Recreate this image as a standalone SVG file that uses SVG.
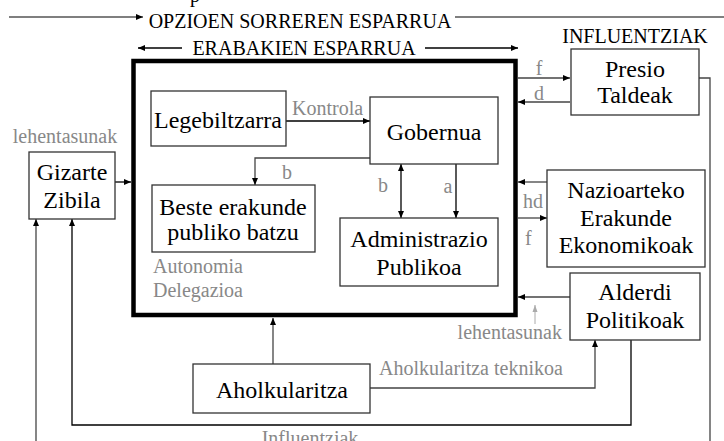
<svg xmlns="http://www.w3.org/2000/svg" width="724" height="441" viewBox="0 0 724 441">
<style>
.box{fill:#fff;stroke:#333;stroke-width:1.3}
.t{font-family:"Liberation Serif","Times New Roman",serif;font-size:24px;fill:#000;text-anchor:middle}
.g{font-family:"Liberation Serif","Times New Roman",serif;font-size:20px;fill:#888}
.h{font-family:"Liberation Serif","Times New Roman",serif;font-size:20px;fill:#000}
.c{fill:none;stroke:#444;stroke-width:1.3}
.k{fill:none;stroke:#000;stroke-width:1.3}
</style>
<defs>
<marker id="ah" markerUnits="userSpaceOnUse" markerWidth="8" markerHeight="8" viewBox="0 0 8 8" refX="7" refY="4" orient="auto-start-reverse"><path d="M0,1 L7,4 L0,7 z" fill="#000"/></marker>
<marker id="ag" markerUnits="userSpaceOnUse" markerWidth="8" markerHeight="8" viewBox="0 0 8 8" refX="7" refY="4" orient="auto"><path d="M0,1.5 L7,4 L0,6.5 z" fill="#aaa"/></marker>
</defs>
<rect width="724" height="441" fill="#fff"/>

<g id="headers">
<text class="h" x="190" y="2">p</text>
<line x1="9" y1="17" x2="143" y2="17" stroke="#555" stroke-width="1.3" marker-end="url(#ah)"/>
<text class="h" x="300" y="28" text-anchor="middle">OPZIOEN SORREREN ESPARRUA</text>
<line x1="455" y1="17" x2="724" y2="17" stroke="#555" stroke-width="1.3"/>
<line x1="182" y1="48" x2="138" y2="48" class="k" marker-end="url(#ah)"/>
<text class="h" x="304" y="55" text-anchor="middle">ERABAKIEN ESPARRUA</text>
<line x1="425" y1="48" x2="518" y2="48" class="k" marker-end="url(#ah)"/>
<text class="h" x="635" y="43" text-anchor="middle" font-size="19">INFLUENTZIAK</text>
</g>

<g id="frame"><rect x="133.5" y="61" width="382" height="254" fill="none" stroke="#000" stroke-width="4.5"/></g>

<g id="connectors">
<line class="k" x1="115" y1="182" x2="131" y2="182" marker-end="url(#ah)"/>
<line class="k" x1="286" y1="121" x2="370" y2="121" marker-end="url(#ah)"/>
<polyline class="c" points="370,158 255,158 255,185" marker-end="url(#ah)"/>
<line class="k" x1="401" y1="164" x2="401" y2="218" marker-start="url(#ah)" marker-end="url(#ah)"/>
<line class="k" x1="456" y1="164" x2="456" y2="218" marker-end="url(#ah)"/>
<line class="c" x1="518" y1="78" x2="570" y2="78" marker-end="url(#ah)"/>
<line class="c" x1="570" y1="102" x2="518" y2="102" marker-end="url(#ah)"/>
<polyline class="c" points="699,78 710,78 710,441"/>
<line class="c" x1="547" y1="182" x2="518" y2="182" marker-end="url(#ah)"/>
<line class="c" x1="518" y1="218" x2="547" y2="218" marker-end="url(#ah)"/>
<line class="c" x1="570" y1="297" x2="518" y2="297" marker-end="url(#ah)"/>
<line x1="535" y1="324" x2="535" y2="305" stroke="#aaa" stroke-width="1" marker-end="url(#ag)"/>
<line class="c" x1="273" y1="364" x2="273" y2="318" marker-end="url(#ah)"/>
<polyline class="c" points="370,388 595,388 595,340" marker-end="url(#ah)"/>
<polyline class="k" points="631,340 631,425 72,425 72,219" marker-end="url(#ah)"/>
<line class="c" x1="36" y1="441" x2="36" y2="219" marker-end="url(#ah)"/>
</g>

<g id="labels">
<text class="g" x="65" y="143" text-anchor="middle">lehentasunak</text>
<text class="g" x="292" y="115">Kontrola</text>
<text class="g" x="287" y="179" text-anchor="middle">b</text>
<text class="g" x="153" y="273">Autonomia</text>
<text class="g" x="153" y="297">Delegazioa</text>
<text class="g" x="383" y="192" text-anchor="middle">b</text>
<text class="g" x="448" y="193" text-anchor="middle">a</text>
<text class="g" x="539" y="75" text-anchor="middle">f</text>
<text class="g" x="539" y="100" text-anchor="middle">d</text>
<text class="g" x="523" y="208">hd</text>
<text class="g" x="525" y="245">f</text>
<text class="g" x="562" y="339" text-anchor="end">lehentasunak</text>
<text class="g" x="379" y="375">Aholkularitza teknikoa</text>
<text class="g" x="310" y="445" text-anchor="middle">Influentziak</text>
</g>

<g id="legebiltzarra"><rect class="box" x="151" y="91" width="135" height="55"/><text class="t" x="218" y="128">Legebiltzarra</text></g>
<g id="gobernua"><rect class="box" x="370" y="97" width="128" height="67"/><text class="t" x="434" y="140">Gobernua</text></g>
<g id="beste"><rect class="box" x="152" y="185" width="163" height="67"/><text class="t" x="233" y="215">Beste erakunde</text><text class="t" x="233" y="240">publiko batzu</text></g>
<g id="administrazio"><rect class="box" x="340" y="218" width="158" height="68"/><text class="t" x="419" y="247">Administrazio</text><text class="t" x="419" y="275">Publikoa</text></g>
<g id="gizarte"><rect class="box" x="29" y="152" width="86" height="67"/><text class="t" x="72" y="180">Gizarte</text><text class="t" x="72" y="208">Zibila</text></g>
<g id="presio"><rect class="box" x="571" y="49" width="128" height="66"/><text class="t" x="635" y="77">Presio</text><text class="t" x="635" y="103">Taldeak</text></g>
<g id="nazioarteko"><rect class="box" x="547" y="170" width="158" height="97"/><text class="t" x="626" y="198">Nazioarteko</text><text class="t" x="626" y="226">Erakunde</text><text class="t" x="626" y="253">Ekonomikoak</text></g>
<g id="alderdi"><rect class="box" x="570" y="273" width="130" height="67"/><text class="t" x="635" y="300">Alderdi</text><text class="t" x="635" y="328">Politikoak</text></g>
<g id="aholkularitza"><rect class="box" x="193" y="364" width="177" height="49"/><text class="t" x="282" y="398">Aholkularitza</text></g>
</svg>
